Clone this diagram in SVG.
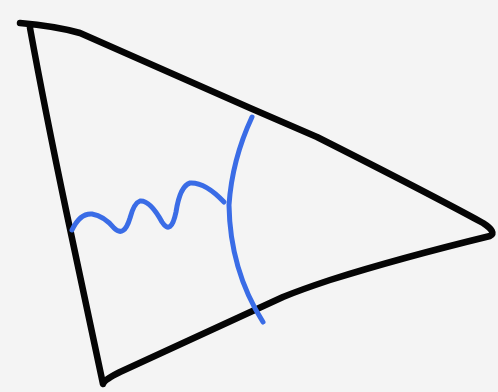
<svg xmlns="http://www.w3.org/2000/svg" width="498" height="392" viewBox="0 0 498 392">
<style>
.k{fill:none;stroke:#050505;stroke-width:6.5;stroke-linecap:round;stroke-linejoin:round}
.b{fill:none;stroke:#3a6ce6;stroke-width:5;stroke-linecap:round;stroke-linejoin:round}
</style>
<rect width="498" height="392" fill="#f4f4f4"/>
<g id="triangle">
<path class="k" d="M20,23 Q55,26 80,33 Q160,68 250,108 L317,137 Q430,194 483,223 Q497,232 490,236 Q400,258 330,280 Q300,290 283,297 L120,372 Q104,380 103,384 Q85,300 66,210 Q45,110 30,28"/>
</g>
<g id="arc">
<path class="b" d="M252,117 Q232,160 229,205 Q230,270 263,322"/>
</g>
<g id="wave">
<path class="b" d="M72,230 Q80,213 92,214 Q104,216 114,228 Q124,238 130,218 Q134,203 140,201 Q150,200 162,222 Q171,236 176,212 Q180,186 190,183 Q205,182 224,202"/>
</g>
</svg>
